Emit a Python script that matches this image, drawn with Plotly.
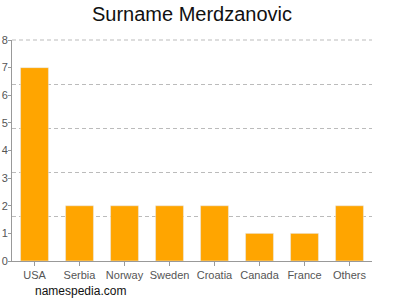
import plotly.graph_objects as go

countries = ["USA", "Serbia", "Norway", "Sweden", "Croatia", "Canada", "France", "Others"]
counts = [7, 2, 2, 2, 2, 1, 1, 2]
y_ticks = [0, 1, 2, 3, 4, 5, 6, 7, 8]
grid_vals = [1.6, 3.2, 4.8, 6.4]

fig = go.Figure()
fig.add_trace(go.Bar(x=countries, y=counts, marker_color="#FFA500", width=0.62))
# invisible trace for the grid axis
fig.add_trace(go.Scatter(x=countries, y=counts, yaxis="y2", mode="none", showlegend=False, hoverinfo="skip"))

font = "Liberation Sans, Arial, sans-serif"
fig.update_layout(
    width=400, height=300,
    margin=dict(l=12, r=28, t=40, b=39),
    paper_bgcolor="white", plot_bgcolor="white",
    showlegend=False,
    title=dict(text="Surname Merdzanovic", x=0.48, xanchor="center", y=0.955, yanchor="middle",
               font=dict(family=font, size=20, color="#111")),
    font=dict(family=font),
    xaxis=dict(showline=True, linecolor="#999", linewidth=1, ticks="outside", ticklen=4,
               tickcolor="#999", tickfont=dict(size=11, color="#555"), showgrid=False,
               automargin=False),
    yaxis=dict(range=[0, 8], tickvals=y_ticks, showline=True, linecolor="#999", linewidth=1,
               ticks="outside", ticklen=3, tickcolor="#999", showgrid=False, zeroline=False,
               tickfont=dict(size=11, color="#555"), automargin=False, ticklabelstandoff=-2),
    yaxis2=dict(range=[0, 8], overlaying="y", tickvals=grid_vals, showticklabels=False,
                showgrid=True, gridcolor="#bbb", griddash="4px,3px", gridwidth=1, zeroline=False,
                automargin=False),
    bargap=0.38,
    shapes=[dict(type="line", xref="paper", yref="paper", x0=0, x1=1, y0=1, y1=1,
                 line=dict(color="#bbb", width=1, dash="4px,3px"))],
)
fig.add_annotation(text="namespedia.com", xref="paper", yref="paper", x=0.058, y=-0.135,
                   xanchor="left", yanchor="middle", showarrow=False,
                   font=dict(family=font, size=12, color="#111"))
fig.write_html("out.html")
